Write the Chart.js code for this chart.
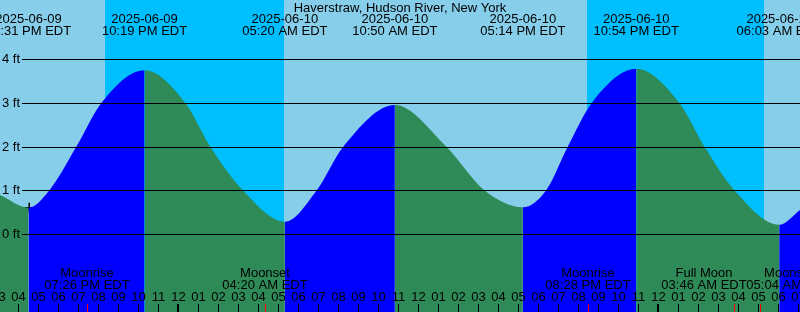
<!DOCTYPE html>
<html>
<head>
<meta charset="utf-8">
<script src="https://cdn.jsdelivr.net/npm/chart.js@4.4.0/dist/chart.umd.min.js"></script>
<style>
  html, body { margin: 0; padding: 0; background: #87ceeb; }
  canvas { display: block; }
</style>
</head>
<body>
<canvas id="tideChart" width="800" height="312"></canvas>
<script>
const stationName = "Haverstraw, Hudson River, New York";

// all times are hours relative to 2025-06-10 00:00 EDT
const viewStart = -8.91;
const viewEnd = 31.09;

// water level: highs, lows and the 1/2/3 ft crossings
const tideHours = [-8.91, -7.483, -6.44, -5.09, -3.84, -1.683, 0.36, 1.60, 3.23, 5.333, 6.93, 8.26, 10.833, 13.40, 15.31, 17.233, 18.40, 19.48, 20.68, 22.9, 25.06, 26.31, 27.81, 30.05, 31.09];
const tideFeet  = [0.89, 0.60, 1, 2, 3, 3.75, 3, 2, 1, 0.28, 1, 2, 2.95, 2, 1, 0.61, 1, 2, 3, 3.78, 3, 2, 1, 0.21, 0.55];

// high / low tide events
const eventHours = [-7.483, -1.683, 5.333, 10.833, 17.233, 22.9, 30.05];
const eventDates = ["2025-06-09", "2025-06-09", "2025-06-10", "2025-06-10", "2025-06-10", "2025-06-10", "2025-06-11"];
const eventTimes = ["04:31 PM EDT", "10:19 PM EDT", "05:20 AM EDT", "10:50 AM EDT", "05:14 PM EDT", "10:54 PM EDT", "06:03 AM EDT"];

// moon events
const moonHours = [-4.567, 4.333, 20.467, 27.767, 29.067];
const moonNames = ["Moonrise", "Moonset", "Moonrise", "Full Moon", "Moonset"];
const moonTimes = ["07:26 PM EDT", "04:20 AM EDT", "08:28 PM EDT", "03:46 AM EDT", "05:04 AM EDT"];

// night (sunset -> sunrise)
const nightStart = [-3.64, 20.43];
const nightEnd   = [5.31, 29.31];

// current time marker
const nowHour = -7.45;
const nowFeet = 0.60;

const feetTicks = [0, 1, 2, 3, 4];

const DAY = '#87ceeb', NIGHT = '#00bfff', FLOOD = '#0000ff', EBB = '#2e8b57';
const FONT = '13px "Liberation Sans", Arial, sans-serif';

function hourLabel(h) {
  const hr = ((h % 24) + 24) % 24;
  return String(hr % 12 || 12).padStart(2, '0');
}

const skyPlugin = {
  id: 'sky',
  beforeDatasetsDraw(chart) {
    const { ctx, chartArea: a, scales: { x } } = chart;
    ctx.save();
    ctx.fillStyle = DAY;
    ctx.fillRect(a.left, a.top, a.right - a.left, a.bottom - a.top);
    ctx.fillStyle = NIGHT;
    nightStart.forEach((s, i) => {
      const x0 = Math.round(x.getPixelForValue(s));
      const x1 = Math.round(x.getPixelForValue(nightEnd[i]));
      ctx.fillRect(x0, a.top, x1 - x0, a.bottom - a.top);
    });
    ctx.restore();
  }
};

const labelsPlugin = {
  id: 'labels',
  afterDatasetsDraw(chart) {
    const { ctx, chartArea: a, scales: { x, y } } = chart;
    ctx.save();
    ctx.font = FONT;
    ctx.fillStyle = '#000';
    ctx.strokeStyle = '#000';
    ctx.textBaseline = 'middle';

    // depth grid
    ctx.lineWidth = 1;
    feetTicks.forEach(f => {
      const py = Math.round(y.getPixelForValue(f)) + 0.5;
      ctx.beginPath();
      ctx.moveTo(22, py);
      ctx.lineTo(a.right, py);
      ctx.stroke();
      ctx.textAlign = 'left';
      ctx.fillText(f + ' ft', 2, py);
    });

    // title and tide events
    ctx.textAlign = 'center';
    ctx.fillText(stationName, 400, 8);
    eventHours.forEach((h, i) => {
      const px = x.getPixelForValue(h);
      ctx.fillText(eventDates[i], px, 19.5);
      ctx.fillText(eventTimes[i], px, 31.5);
    });

    // hour ticks
    for (let h = Math.floor(viewStart); h <= Math.ceil(viewEnd); h++) {
      const px = Math.round(x.getPixelForValue(h));
      const midnight = ((h % 24) + 24) % 24 === 0;
      ctx.fillRect(midnight ? px - 1 : px, 304, midnight ? 2 : 1, 8);
      ctx.fillText(hourLabel(h), px + 0.5, 297.5);
    }

    // moon events (last two labels are pushed apart like the original)
    const nudge = [0, 0, 0, -30, 29];
    moonHours.forEach((h, i) => {
      const px = Math.round(x.getPixelForValue(h));
      ctx.fillStyle = '#ff0000';
      ctx.fillRect(px, 304, 1, 8);
      ctx.fillStyle = '#000';
      ctx.fillText(moonNames[i], px + nudge[i], 273);
      ctx.fillText(moonTimes[i], px + nudge[i], 285);
    });
    ctx.restore();
  }
};

new Chart(document.getElementById('tideChart'), {
  type: 'line',
  data: {
    datasets: [{
      data: tideHours.map((h, i) => ({ x: h, y: tideFeet[i] })),
      borderColor: 'rgba(0,0,0,0)',
      borderWidth: 0,
      pointRadius: 0,
      cubicInterpolationMode: 'monotone',
      fill: 'start',
      backgroundColor: EBB,
      segment: {
        backgroundColor: c => c.p1.parsed.y > c.p0.parsed.y ? FLOOD : EBB
      }
    }, {
      data: [{ x: nowHour, y: nowFeet }],
      pointStyle: 'cross',
      pointRadius: 5,
      borderColor: '#000',
      borderWidth: 1.5,
      showLine: false
    }]
  },
  options: {
    responsive: false,
    animation: false,
    devicePixelRatio: 1,
    layout: { padding: 0, autoPadding: false },
    scales: {
      x: { type: 'linear', min: viewStart, max: viewEnd, display: false },
      y: { min: -1.785, max: 5.355, display: false }
    },
    plugins: { legend: { display: false }, tooltip: { enabled: false } }
  },
  plugins: [skyPlugin, labelsPlugin]
});
</script>
</body>
</html>
